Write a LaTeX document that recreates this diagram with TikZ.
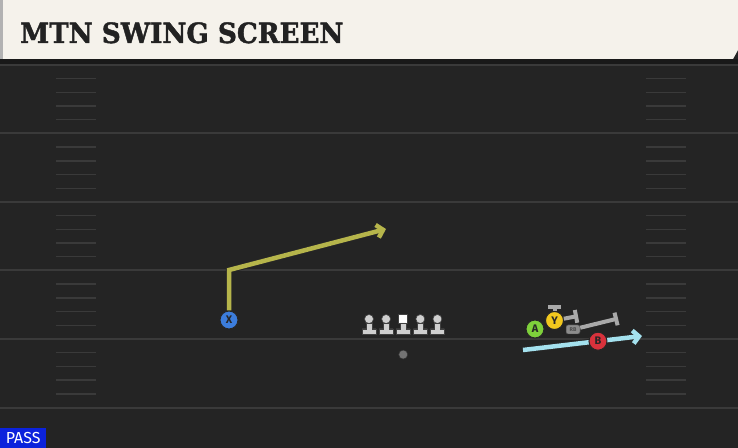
\documentclass[tikz,border=0pt]{standalone}
\usepackage{fontspec}
\setsansfont{Fira Sans}
\newfontfamily\titlefont{DejaVu Serif Bold}[FakeBold=1.6]
\usetikzlibrary{positioning, arrows.meta}

\definecolor{field}{HTML}{242424}
\definecolor{yardline}{HTML}{3A3A3A}
\definecolor{cream}{HTML}{F5F2EB}
\definecolor{ink}{HTML}{222222}
\definecolor{olivegold}{HTML}{B6B54B}
\definecolor{swingblue}{HTML}{A4E1EE}
\definecolor{xblue}{HTML}{3C7DDC}
\definecolor{agreen}{HTML}{7ED03B}
\definecolor{ygold}{HTML}{F2C81E}
\definecolor{bred}{HTML}{D8323C}
\definecolor{blkgray}{HTML}{A9A9A9}
\definecolor{olgray}{HTML}{CFCFCF}
\definecolor{passblue}{HTML}{0B22DC}

\begin{document}
\begin{tikzpicture}[x=1bp, y=-1bp,
		p/.style={circle, draw=black!85, line width=1bp, minimum size=18bp, inner sep=0pt, font=\sffamily\bfseries\fontsize{11}{11}\selectfont, text=black!85},
		ol/.style={circle, fill=olgray, draw=black!75, line width=0.6bp, minimum size=9bp, inner sep=0pt},
		snap/.style={rectangle, fill=white, draw=black!75, line width=0.6bp, minimum size=9bp, inner sep=0pt},
		body/.style={fill=olgray, draw=black!75, line width=0.6bp},
		qb/.style={circle, fill=black!55, draw=black!80, line width=0.5bp, minimum size=9bp, inner sep=0pt},
		rb/.style={rectangle, rounded corners=2bp, fill=black!45, draw=black!75, line width=0.5bp, minimum width=14bp, minimum height=9bp, inner sep=0pt, font=\sffamily\bfseries\fontsize{5.5}{5.5}\selectfont, text=black!70},
		route/.style={line width=4.5bp, line join=miter, -{Straight Barb[length=6bp, width=13bp]}, preaction={draw=black!85, line width=6.5bp}},
		blk/.style={line width=4bp, draw=blkgray, -{Bar[width=13bp]}, preaction={draw=black!80, line width=5.5bp}},
		hash/.style={draw=yardline, line width=1.4bp}]
		\useasboundingbox (0,0) rectangle (738,448);
		\fill[field] (0,0) rectangle (738,448);

		% field lines
		\foreach \y in {65,133.5,202,270.5,339,407.5}
			\draw[yardline, line width=2bp] (0,\y) -- (738,\y);
		\foreach \y in {65,133.5,202,270.5,339}
			\foreach \k in {1,...,4} {
				\draw[hash] (56,\y+13.7*\k) -- (96,\y+13.7*\k);
				\draw[hash] (646,\y+13.7*\k) -- (686,\y+13.7*\k);
			}

		% header
		\fill[black!90] (0,59) rectangle (738,64);
		\fill[cream] (3,0) -- (738,0) -- (738,50) -- (733,59) -- (3,59) -- cycle;
		\fill[black!30] (0,0) rectangle (3,59);
		\node [anchor=base west, inner sep=0pt, font=\titlefont\fontsize{28}{28}\selectfont, text=ink] (title) at (20,43) {\scalebox{0.94}[1]{MTN SWING SCREEN}};

		% line
		\node [ol] (LT) at (369,319) {};
		\node [ol, right=7.5bp of LT] (LG) {};
		\node [snap, right=7.5bp of LG] (C) {};
		\node [ol, right=7.5bp of C] (RG) {};
		\node [ol, right=7.5bp of RG] (RT) {};
		\foreach \n in {LT,LG,C,RG,RT}
			\draw[body, shift={(\n.center)}] (-3,4) -- (-3,10) -- (-7,10) -- (-7,15) -- (7,15) -- (7,10) -- (3,10) -- (3,4) -- cycle;
		\node [qb, below=26bp of C] (QB) {};

		% X go route
		\node [p, fill=xblue] (X) at (229,320) {X};
		\coordinate (Xbreak) at (229,270);
		\coordinate (Xend) at (386,229);
		\draw[route, olivegold] (X) -- (Xbreak) -- (Xend);

		% backfield
		\node [p, fill=agreen] (A) at (535,329) {A};
		\node [p, fill=ygold] (Y) at (554.5,320.5) {Y};
		\coordinate (Ytop) at (554.5,305);
		\coordinate (Yedge) at (578,316);
		\coordinate (RBedge) at (618,318.5);
		\path[blk] (Y) edge (Ytop);
		\path[blk] (Y) edge (Yedge);
		\node [rb] (RB) at (573,329.5) {RB};
		\path[blk] (RB) edge (RBedge);

		% swing route
		\coordinate (S0) at (523,350);
		\coordinate (S1) at (642,336);
		\draw[route, swingblue] (S0) -- node [p, fill=bred, pos=0.63] (B) {B} (S1);

		\node [anchor=south west, fill=passblue, text=white, minimum width=46bp, minimum height=20bp, inner sep=0pt, font=\sffamily\fontsize{16}{16}\selectfont] (pass) at (0,448) {PASS};
	\end{tikzpicture}
\end{document}
